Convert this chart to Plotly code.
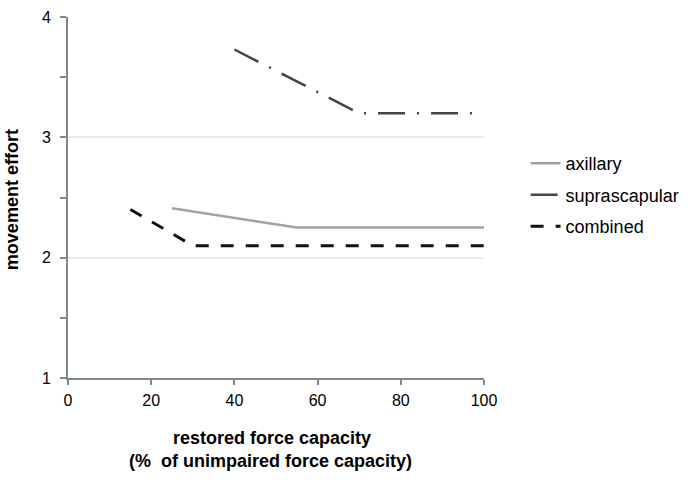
import plotly.graph_objects as go

axillary_x = [25, 55, 100]
axillary_y = [2.41, 2.25, 2.25]
supra_x = [40, 70, 100]
supra_y = [3.73, 3.2, 3.2]
combined_x = [15, 30, 100]
combined_y = [2.40, 2.10, 2.10]

x_ticks = [0, 20, 40, 60, 80, 100]
y_ticks = [1, 2, 3, 4]

font = "Liberation Sans, Arial, sans-serif"

fig = go.Figure()
fig.add_trace(go.Scatter(x=axillary_x, y=axillary_y, mode="lines", name="axillary",
                         legendgroup="a",
                         line=dict(color="#a3a3a3", width=2.5)))
fig.add_trace(go.Scatter(x=supra_x, y=supra_y, mode="lines", name="suprascapular",
                         legendgroup="b",
                         line=dict(color="#444444", width=2.5, dash="27px,12px,2px,12px")))
fig.add_trace(go.Scatter(x=combined_x, y=combined_y, mode="lines", name="combined",
                         legendgroup="c",
                         line=dict(color="#111111", width=3, dash="13px,12px")))

axis_color = "#7d8a8a"
fig.update_layout(
    width=700, height=480,
    margin=dict(l=68, r=216, t=17, b=102),
    paper_bgcolor="white", plot_bgcolor="white",
    font=dict(family=font, size=16, color="black"),
    showlegend=True,
    legend=dict(x=1.1, y=0.645, xanchor="left", yanchor="top",
                font=dict(size=18, color="black"),
                tracegroupgap=5, bgcolor="rgba(0,0,0,0)"),
    xaxis=dict(range=[0, 100], tickvals=x_ticks, showgrid=False, zeroline=False,
               showline=True, linecolor=axis_color, linewidth=2, automargin=False,
               ticks="outside", ticklen=5, tickcolor=axis_color, tickwidth=1.5,
               ticklabelstandoff=2,
               tickfont=dict(size=16)),
    yaxis=dict(range=[1, 4], tickvals=y_ticks, showgrid=True, gridcolor="#ebebeb",
               gridwidth=1.5, zeroline=False, automargin=False,
               showline=True, linecolor=axis_color, linewidth=2,
               ticks="outside", ticklen=6, tickcolor=axis_color, tickwidth=1.5,
               ticklabelstandoff=6,
               tickfont=dict(size=16),
               minor=dict(dtick=0.5, tick0=1, ticks="outside", ticklen=6,
                          tickcolor=axis_color, tickwidth=1.5, showgrid=False)),
    annotations=[
        dict(text="<b>movement effort</b>", xref="paper", yref="paper",
             x=-0.135, y=0.495, textangle=-90, showarrow=False, font=dict(size=18),
             xanchor="center", yanchor="middle"),
        dict(text="<b>restored force capacity</b>", xref="paper", yref="paper",
             x=0.49, y=-0.165, showarrow=False, font=dict(size=18),
             xanchor="center", yanchor="middle"),
        dict(text="<b>(%  of unimpaired force capacity)</b>", xref="paper", yref="paper",
             x=0.486, y=-0.229, showarrow=False, font=dict(size=18),
             xanchor="center", yanchor="middle"),
    ],
)

fig.write_html("out.html",
               config={"displayModeBar": False},
               post_script="document.body.style.margin='0';document.body.style.padding='0';")
